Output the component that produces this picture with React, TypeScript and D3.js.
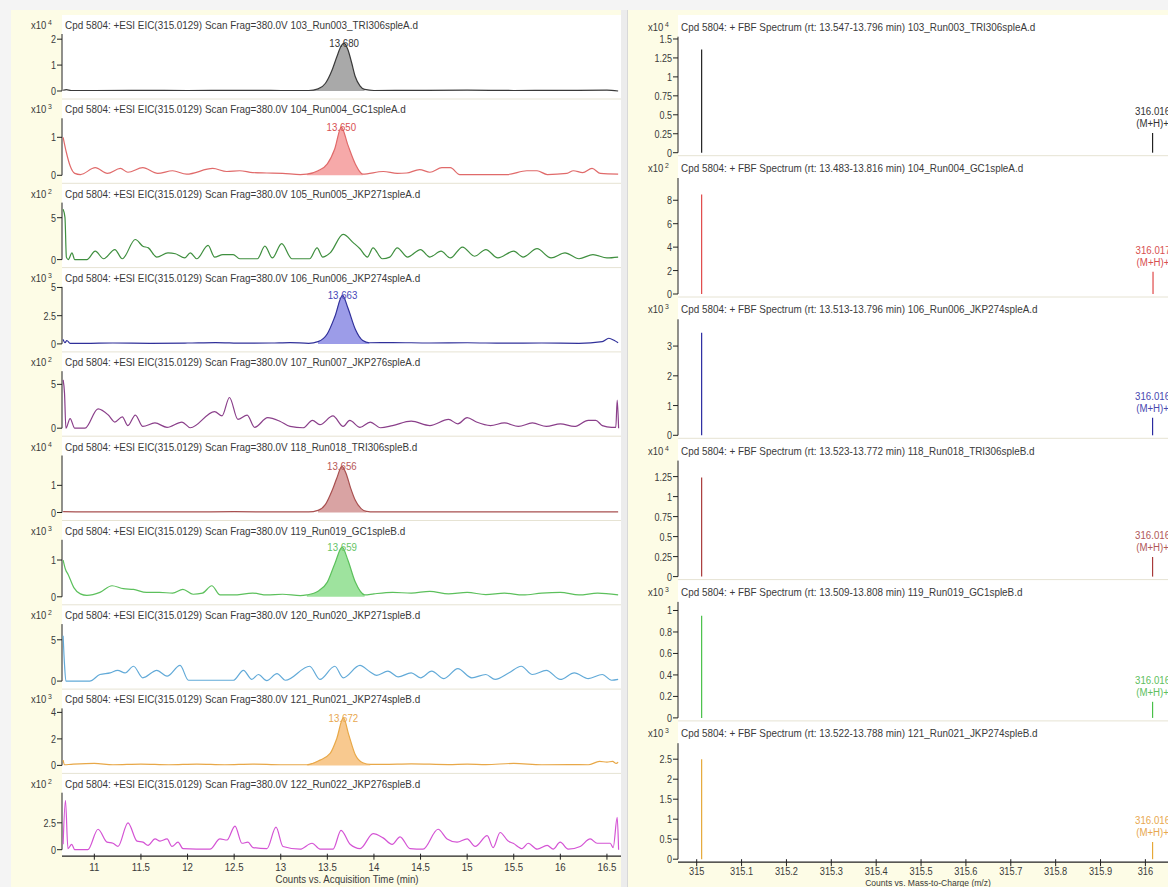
import React from 'react';
import * as d3 from 'd3';

const W = 1168;
const H = 887;

// ---------------- LEFT: EIC chromatograms ----------------
const EIC_FILES = [
  '103_Run003_TRI306spleA.d', '104_Run004_GC1spleA.d', '105_Run005_JKP271spleA.d',
  '106_Run006_JKP274spleA.d', '107_Run007_JKP276spleA.d', '118_Run018_TRI306spleB.d',
  '119_Run019_GC1spleB.d', '120_Run020_JKP271spleB.d', '121_Run021_JKP274spleB.d',
  '122_Run022_JKP276spleB.d',
];
const EIC_EXP = [4, 3, 2, 3, 2, 4, 3, 2, 3, 2];
const EIC_TICKS = [[0, 1, 2], [0, 1], [0, 5], [0, 2.5, 5], [0, 5], [0, 1], [0, 1], [0, 5], [0, 2, 4], [0, 2.5]];
const EIC_YMAX = [2.2, 1.5, 6.8, 5.05, 6.5, 2.1, 1.55, 6.9, 4.3, 5.3];
const EIC_LINE = ['#3a3a3a', '#e06a6a', '#3f8f3f', '#30309a', '#8a3f8a', '#a85050', '#5cc05c', '#62aad8', '#e8a848', '#d453d4'];
const EIC_FILL = ['#a9a9a9', '#f6a9a9', null, '#9c9ce8', null, '#d9a3a3', '#9ee39e', null, '#f8c98f', null];
const EIC_LABEL_COLOR = ['#333333', '#d85050', null, '#4848b8', null, '#b85858', '#66c466', null, '#e8a850', null];
const PEAK_LABELS = ['13.680', '13.650', null, '13.663', null, '13.656', '13.659', null, '13.672', null];
const PEAK_RANGES = [[13.3, 13.95], [13.26, 13.9], null, [13.32, 13.95], null, [13.33, 13.95], [13.26, 13.92], null, [13.28, 13.97], null];
const TIME_TICKS = [11, 11.5, 12, 12.5, 13, 13.5, 14, 14.5, 15, 15.5, 16, 16.5];

const eic1 = [[10.665, 0.03], [10.7, 0.05], [10.75, 0.02], [11.0, 0.02], [11.5, 0.025], [12.0, 0.02], [12.5, 0.025], [13.0, 0.02], [13.3, 0.02], [13.4, 0.08], [13.48, 0.3], [13.55, 0.8], [13.6, 1.3], [13.65, 1.75], [13.68, 1.85], [13.72, 1.6], [13.76, 1.1], [13.8, 0.55], [13.85, 0.2], [13.9, 0.06], [14.0, 0.02], [14.5, 0.025], [15.0, 0.03], [15.5, 0.02], [16.0, 0.025], [16.5, 0.03], [16.62, 0.0]];
const eic2 = [[10.665, 1.0], [10.7, 0.6], [10.74, 0.25], [10.79, 0.05], [10.85, 0.02], [11.01, 0.2], [11.14, 0.05], [11.28, 0.18], [11.36, 0.08], [11.52, 0.2], [11.68, 0.05], [11.84, 0.12], [11.99, 0.03], [12.27, 0.18], [12.42, 0.1], [12.56, 0.12], [12.7, 0.07], [12.85, 0.06], [13.02, 0.05], [13.21, 0.02], [13.28, 0.03], [13.4, 0.12], [13.5, 0.3], [13.58, 0.7], [13.65, 1.27], [13.72, 0.8], [13.8, 0.3], [13.88, 0.03], [14.1, 0.1], [14.25, 0.05], [14.35, 0.06], [14.49, 0.15], [14.6, 0.08], [14.73, 0.2], [14.82, 0.2], [14.92, 0.02], [15.43, 0.02], [15.64, 0.12], [15.75, 0.12], [15.86, 0.02], [16.07, 0.05], [16.14, 0.12], [16.24, 0.07], [16.34, 0.18], [16.43, 0.05], [16.62, 0.03]];
const eic3 = [[10.665, 6.0], [10.685, 5.0], [10.7, 0.3], [10.72, 0.0], [10.76, 0.8], [10.79, 0.0], [10.92, 0.0], [11.01, 1.0], [11.1, 0.1], [11.22, 1.2], [11.3, 0.1], [11.44, 2.4], [11.52, 1.6], [11.58, 1.4], [11.67, 0.3], [11.79, 0.8], [11.87, 0.7], [11.97, 0.2], [12.03, 0.8], [12.1, 0.1], [12.22, 1.7], [12.29, 0.3], [12.38, 0.6], [12.49, 0.6], [12.56, 0.1], [12.75, 0.1], [12.83, 1.6], [12.91, 0.2], [13.01, 1.9], [13.12, 0.1], [13.31, 0.1], [13.39, 1.4], [13.45, 0.3], [13.53, 0.8], [13.67, 3.0], [13.78, 2.0], [13.85, 1.3], [13.93, 0.3], [13.99, 1.4], [14.09, 0.1], [14.17, 0.3], [14.25, 1.4], [14.36, 0.3], [14.5, 1.2], [14.6, 0.3], [14.72, 1.0], [14.82, 0.2], [14.95, 1.5], [15.08, 0.4], [15.2, 1.2], [15.33, 0.2], [15.5, 1.0], [15.6, 0.3], [15.75, 1.3], [15.9, 0.2], [16.05, 0.8], [16.2, 0.1], [16.35, 0.6], [16.5, 0.2], [16.62, 0.3]];
const eic4 = [[10.665, 0.4], [10.685, 0.1], [10.705, 0.3], [10.74, 0.05], [10.9, 0.05], [11.2, 0.08], [11.6, 0.05], [12.0, 0.08], [12.3, 0.12], [12.6, 0.06], [12.9, 0.08], [13.1, 0.12], [13.3, 0.05], [13.4, 0.2], [13.5, 0.9], [13.58, 2.4], [13.663, 4.3], [13.72, 3.2], [13.8, 1.3], [13.88, 0.3], [13.95, 0.1], [14.2, 0.12], [14.6, 0.08], [15.0, 0.1], [15.4, 0.06], [15.8, 0.08], [16.2, 0.05], [16.45, 0.2], [16.52, 0.5], [16.58, 0.3], [16.62, 0.1]];
const eic5 = [[10.665, 5.5], [10.68, 4.0], [10.695, 0.0], [10.74, 1.1], [10.79, 0.0], [10.9, 0.0], [11.04, 2.2], [11.15, 1.5], [11.22, 0.7], [11.3, 1.3], [11.36, 0.3], [11.44, 1.5], [11.52, 0.2], [11.65, 0.6], [11.78, 0.1], [11.94, 0.7], [12.03, 0.05], [12.29, 1.9], [12.37, 1.4], [12.45, 3.5], [12.54, 1.0], [12.64, 1.5], [12.72, 0.1], [12.86, 1.2], [12.99, 0.8], [13.1, 0.2], [13.24, 0.05], [13.34, 0.9], [13.42, 0.4], [13.56, 1.4], [13.67, 0.2], [13.74, 0.9], [13.85, 0.1], [13.96, 0.7], [14.07, 0.05], [14.2, 0.3], [14.4, 0.8], [14.6, 0.3], [14.8, 1.0], [14.9, 0.5], [15.0, 1.2], [15.1, 0.7], [15.25, 0.3], [15.4, 0.6], [15.55, 0.2], [15.7, 0.6], [15.85, 0.2], [16.0, 0.5], [16.15, 0.2], [16.3, 0.9], [16.38, 0.9], [16.45, 0.3], [16.55, 0.1], [16.595, 0.1], [16.61, 3.2], [16.625, 0.0]];
const eic6 = [[10.665, 0.03], [11.0, 0.02], [11.5, 0.025], [12.0, 0.02], [12.5, 0.03], [13.0, 0.02], [13.3, 0.02], [13.4, 0.08], [13.48, 0.3], [13.55, 0.8], [13.6, 1.25], [13.656, 1.7], [13.7, 1.45], [13.75, 0.9], [13.8, 0.45], [13.86, 0.15], [13.92, 0.04], [14.0, 0.02], [14.5, 0.02], [15.0, 0.025], [15.5, 0.02], [16.0, 0.02], [16.62, 0.02]];
const eic7 = [[10.665, 1.0], [10.69, 0.75], [10.72, 0.6], [10.78, 0.25], [10.85, 0.08], [10.92, 0.04], [11.06, 0.12], [11.19, 0.3], [11.31, 0.22], [11.42, 0.2], [11.56, 0.12], [11.7, 0.12], [11.84, 0.1], [11.95, 0.2], [12.06, 0.07], [12.16, 0.1], [12.26, 0.3], [12.35, 0.05], [12.49, 0.05], [12.7, 0.1], [12.85, 0.05], [13.02, 0.07], [13.21, 0.03], [13.28, 0.05], [13.4, 0.15], [13.5, 0.4], [13.58, 0.9], [13.659, 1.35], [13.72, 1.0], [13.8, 0.4], [13.9, 0.05], [14.0, 0.08], [14.2, 0.12], [14.4, 0.1], [14.6, 0.15], [14.8, 0.08], [15.0, 0.12], [15.2, 0.06], [15.4, 0.1], [15.6, 0.05], [15.8, 0.1], [16.0, 0.12], [16.2, 0.05], [16.4, 0.1], [16.62, 0.05]];
const eic8 = [[10.665, 5.5], [10.68, 2.0], [10.695, 0.0], [10.95, 0.0], [11.06, 0.8], [11.17, 1.0], [11.25, 1.3], [11.33, 1.0], [11.42, 1.8], [11.52, 0.4], [11.67, 1.3], [11.78, 0.6], [11.92, 1.9], [12.01, 0.1], [12.49, 0.1], [12.6, 1.3], [12.69, 0.2], [12.76, 0.8], [12.85, 0.05], [12.96, 0.9], [13.05, 0.1], [13.31, 1.8], [13.42, 0.2], [13.58, 1.8], [13.67, 0.4], [13.85, 1.9], [13.96, 1.1], [14.03, 0.7], [14.15, 1.2], [14.26, 0.5], [14.4, 1.0], [14.5, 0.4], [14.62, 1.2], [14.75, 0.3], [14.9, 1.5], [15.05, 0.4], [15.2, 0.8], [15.3, 0.2], [15.45, 1.0], [15.58, 1.8], [15.7, 0.8], [15.85, 1.3], [16.0, 0.2], [16.15, 1.0], [16.3, 0.3], [16.45, 0.8], [16.55, 0.1], [16.62, 0.2]];
const eic9 = [[10.665, 0.4], [10.68, 0.05], [10.75, 0.08], [11.0, 0.15], [11.2, 0.05], [11.5, 0.1], [11.8, 0.05], [12.1, 0.1], [12.4, 0.05], [12.7, 0.1], [13.0, 0.05], [13.28, 0.05], [13.42, 0.4], [13.53, 0.9], [13.6, 2.0], [13.672, 3.6], [13.73, 2.3], [13.8, 0.8], [13.88, 0.2], [13.96, 0.08], [14.1, 0.08], [14.4, 0.12], [14.8, 0.06], [15.0, 0.1], [15.2, 0.06], [15.5, 0.15], [15.8, 0.05], [16.1, 0.06], [16.3, 0.05], [16.42, 0.3], [16.5, 0.25], [16.56, 0.3], [16.6, 0.15], [16.62, 0.25]];
const eic10 = [[10.665, 0.5], [10.69, 4.6], [10.717, 0.1], [10.757, 0.5], [10.79, 0.0], [10.93, 0.0], [11.04, 1.9], [11.136, 0.7], [11.2, 0.6], [11.254, 0.3], [11.361, 2.5], [11.458, 0.8], [11.522, 0.7], [11.576, 0.4], [11.651, 1.0], [11.705, 0.8], [11.78, 1.0], [11.833, 0.3], [11.898, 0.7], [11.951, 0.1], [12.241, 0.05], [12.348, 1.0], [12.423, 0.9], [12.509, 2.2], [12.584, 0.6], [12.648, 0.7], [12.702, 0.2], [12.852, 0.1], [12.949, 2.1], [13.024, 0.3], [13.207, 0.05], [13.336, 0.6], [13.422, 0.05], [13.561, 0.05], [13.647, 1.8], [13.744, 0.5], [13.851, 0.1], [13.991, 1.5], [14.098, 1.1], [14.195, 0.5], [14.28, 1.2], [14.388, 0.1], [14.527, 0.05], [14.688, 1.9], [14.785, 1.0], [14.892, 0.7], [15.0, 1.0], [15.086, 0.3], [15.215, 1.3], [15.279, 0.2], [15.354, 1.6], [15.44, 0.8], [15.494, 0.6], [15.59, 0.1], [15.655, 0.6], [15.751, 0.05], [15.859, 0.4], [15.923, 0.05], [15.998, 0.7], [16.084, 0.05], [16.213, 0.3], [16.32, 1.0], [16.395, 0.6], [16.535, 0.6], [16.567, 0.2], [16.61, 3.0], [16.625, 0.0]];
const EIC_DATA = [eic1, eic2, eic3, eic4, eic5, eic6, eic7, eic8, eic9, eic10];

// ---------------- RIGHT: spectra ----------------
const SPEC_FILES = ['103_Run003_TRI306spleA.d', '104_Run004_GC1spleA.d', '106_Run006_JKP274spleA.d', '118_Run018_TRI306spleB.d', '119_Run019_GC1spleB.d', '121_Run021_JKP274spleB.d'];
const SPEC_RT = ['13.547-13.796', '13.483-13.816', '13.513-13.796', '13.523-13.772', '13.509-13.808', '13.522-13.788'];
const SPEC_EXP = [4, 2, 3, 4, 3, 3];
const SPEC_TICKS = [[0, 0.25, 0.5, 0.75, 1, 1.25, 1.5], [0, 2, 4, 6, 8], [0, 1, 2, 3], [0, 0.25, 0.5, 0.75, 1, 1.25], [0, 0.2, 0.4, 0.6, 0.8, 1], [0, 0.5, 1, 1.5, 2, 2.5]];
const SPEC_YMAX = [1.53, 9.9, 3.9, 1.45, 1.08, 2.9];
const SPEC_MZ_MAIN = 315.011;
const SPEC_MZ_ISO = [316.016, 316.017, 316.016, 316.016, 316.016, 316.016];
const SPEC_MAIN = [1.36, 8.5, 3.45, 1.24, 0.95, 2.5];
const SPEC_ISO = [0.26, 1.9, 0.59, 0.245, 0.15, 0.43];
const SPEC_COLOR = ['#222222', '#e04848', '#2a2aa0', '#a83a3a', '#48c048', '#e6a838'];
const SPEC_LABEL_COLOR = ['#333333', '#d85050', '#4848b0', '#b05858', '#60c060', '#e8a850'];
const MZ_TICKS = [315, 315.1, 315.2, 315.3, 315.4, 315.5, 315.6, 315.7, 315.8, 315.9, 316];

const FONT = "'Liberation Sans', Arial, sans-serif";
const TXT = '#3a3a3a';
const PANEL = '#fdfce6';

function T({ x, y, children, anchor = 'start', fill = TXT, size = 11, sx = 0.82 }: any) {
  return (
    <text transform={`translate(${x},${y}) scale(${sx},1)`} textAnchor={anchor} fill={fill} fontSize={size} fontFamily={FONT}>
      {children}
    </text>
  );
}

function X10({ x, y, exp }: any) {
  return (
    <text transform={`translate(${x},${y}) scale(0.86,1)`} fill={TXT} fontSize={11} fontFamily={FONT}>
      x10<tspan dx={2} dy={-4} fontSize={8}>{exp}</tspan>
    </text>
  );
}

export default function App() {
  // left geometry
  const xL = d3.scaleLinear().domain([10.667, 16.64]).range([63.3, 620]);
  const LAX = 62;
  const zeroL = (i: number) => 91 + 84.3 * i;
  const PH_L = 57;

  // right geometry
  const xR = d3.scaleLinear().domain([315, 316]).range([696.7, 1145.4]);
  const RAX = 678;
  const zeroR = (j: number) => 152.7 + 141.3 * j;
  const PH_R = 116;

  const leftRows = EIC_DATA.map((data, i) => {
    const z = zeroL(i);
    const y = d3.scaleLinear().domain([0, EIC_YMAX[i]]).range([z, z - PH_L]);
    const line = d3.line<number[]>().x((d) => xL(d[0])).y((d) => y(d[1])).curve(d3.curveMonotoneX);
    let fillPath: string | null = null;
    const pr = PEAK_RANGES[i];
    if (pr && EIC_FILL[i]) {
      const sub = data.filter((d) => d[0] >= pr[0] && d[0] <= pr[1]);
      const area = d3.area<number[]>().x((d) => xL(d[0])).y0(y(0)).y1((d) => y(d[1])).curve(d3.curveMonotoneX);
      fillPath = area(sub);
    }
    let peak: number[] | null = null;
    if (PEAK_LABELS[i] && pr) {
      const inPeak = data.filter((d) => d[0] >= pr[0] && d[0] <= pr[1]);
      peak = inPeak.reduce((a, b) => (b[1] > a[1] ? b : a), inPeak[0]);
    }
    return (
      <g key={'L' + i}>
        {i < 9 && <line x1={LAX} x2={621} y1={z + 8} y2={z + 8} stroke="#e6e3d3" strokeWidth={1} />}
        <X10 x={31} y={z - 62} exp={EIC_EXP[i]} />
        <T x={65} y={z - 62} sx={0.9}>{`Cpd 5804: +ESI EIC(315.0129) Scan Frag=380.0V ${EIC_FILES[i]}`}</T>
        <line x1={LAX} x2={LAX} y1={z - PH_L} y2={z} stroke="#222" strokeWidth={1} />
        {EIC_TICKS[i].map((t) => (
          <g key={t}>
            <line x1={LAX - 5} x2={LAX} y1={y(t)} y2={y(t)} stroke="#222" />
            <T x={LAX - 6} y={y(t) + 4} anchor="end">{String(t)}</T>
          </g>
        ))}
        {fillPath && <path d={fillPath} fill={EIC_FILL[i] as string} stroke="none" />}
        <path d={line(data) as string} fill="none" stroke={EIC_LINE[i]} strokeWidth={1.2} />
        {peak && (
          <T x={xL(peak[0])} y={y(peak[1]) + 4} anchor="middle" fill={EIC_LABEL_COLOR[i]} sx={0.88}>{PEAK_LABELS[i]}</T>
        )}
      </g>
    );
  });

  const rightRows = SPEC_FILES.map((f, j) => {
    const z = zeroR(j);
    const y = d3.scaleLinear().domain([0, SPEC_YMAX[j]]).range([z, z - PH_R]);
    const xi = xR(SPEC_MZ_ISO[j]);
    const topIso = y(SPEC_ISO[j]);
    return (
      <g key={'R' + j}>
        {j < 5 && <line x1={RAX} x2={W} y1={z + 3} y2={z + 3} stroke="#e6e3d3" strokeWidth={1} />}
        <X10 x={648} y={z - 122} exp={SPEC_EXP[j]} />
        <T x={681} y={z - 122} sx={0.9}>{`Cpd 5804: + FBF Spectrum (rt: ${SPEC_RT[j]} min) ${f}`}</T>
        <line x1={RAX} x2={RAX} y1={z - PH_R} y2={z} stroke="#222" strokeWidth={1} />
        {SPEC_TICKS[j].map((t) => (
          <g key={t}>
            <line x1={RAX - 5} x2={RAX} y1={y(t)} y2={y(t)} stroke="#222" />
            <T x={RAX - 6} y={y(t) + 4} anchor="end">{String(t)}</T>
          </g>
        ))}
        <line x1={xR(SPEC_MZ_MAIN)} x2={xR(SPEC_MZ_MAIN)} y1={y(0)} y2={y(SPEC_MAIN[j])} stroke={SPEC_COLOR[j]} strokeWidth={1.2} />
        <line x1={xi} x2={xi} y1={y(0)} y2={topIso} stroke={SPEC_COLOR[j]} strokeWidth={1.2} />
        <T x={xi} y={topIso - 18} anchor="middle" fill={SPEC_LABEL_COLOR[j]} sx={0.88}>{SPEC_MZ_ISO[j].toFixed(3)}</T>
        <T x={xi} y={topIso - 6} anchor="middle" fill={SPEC_LABEL_COLOR[j]} sx={0.88}>(M+H)+</T>
      </g>
    );
  });

  const lastL = zeroL(9);
  const lastR = zeroR(5);

  return (
    <svg width={W} height={H} style={{ position: 'absolute', left: 0, top: 0, display: 'block' }} fontFamily={FONT}>
      <rect x={0} y={0} width={W} height={H} fill="#f4f4f4" />
      {/* left panel */}
      <rect x={11} y={10} width={610} height={H - 10} fill={PANEL} />
      <rect x={LAX} y={15} width={621 - LAX} height={lastL + 6 - 15} fill="#ffffff" />
      {/* divider */}
      <rect x={621} y={10} width={7} height={H - 10} fill="#ececec" />
      <line x1={627.5} x2={627.5} y1={10} y2={H} stroke="#d8d8d8" />
      {/* right panel */}
      <rect x={628} y={10} width={W - 628} height={H - 10} fill={PANEL} />
      <rect x={RAX} y={15} width={W - RAX} height={lastR + 3 - 15} fill="#ffffff" />

      {leftRows}
      {rightRows}

      {/* left x axis */}
      <line x1={LAX} x2={621} y1={lastL + 6.5} y2={lastL + 6.5} stroke="#222" strokeWidth={1.2} />
      {TIME_TICKS.map((t) => (
        <g key={t}>
          <line x1={xL(t)} x2={xL(t)} y1={lastL + 4} y2={lastL + 10} stroke="#222" />
          <T x={xL(t)} y={lastL + 21} anchor="middle" sx={0.88}>{String(t)}</T>
        </g>
      ))}
      <T x={347} y={lastL + 33} anchor="middle" sx={0.88}>Counts vs. Acquisition Time (min)</T>

      {/* right x axis */}
      <line x1={RAX} x2={W} y1={lastR + 3} y2={lastR + 3} stroke="#222" strokeWidth={1.2} />
      {MZ_TICKS.map((t) => (
        <g key={t}>
          <line x1={xR(t)} x2={xR(t)} y1={lastR} y2={lastR + 7} stroke="#222" />
          <T x={xR(t)} y={lastR + 16} anchor="middle" sx={0.88} size={10.5}>{String(t)}</T>
        </g>
      ))}
      <T x={928} y={lastR + 26.3} anchor="middle" sx={0.9} size={9.5}>Counts vs. Mass-to-Charge (m/z)</T>
    </svg>
  );
}
